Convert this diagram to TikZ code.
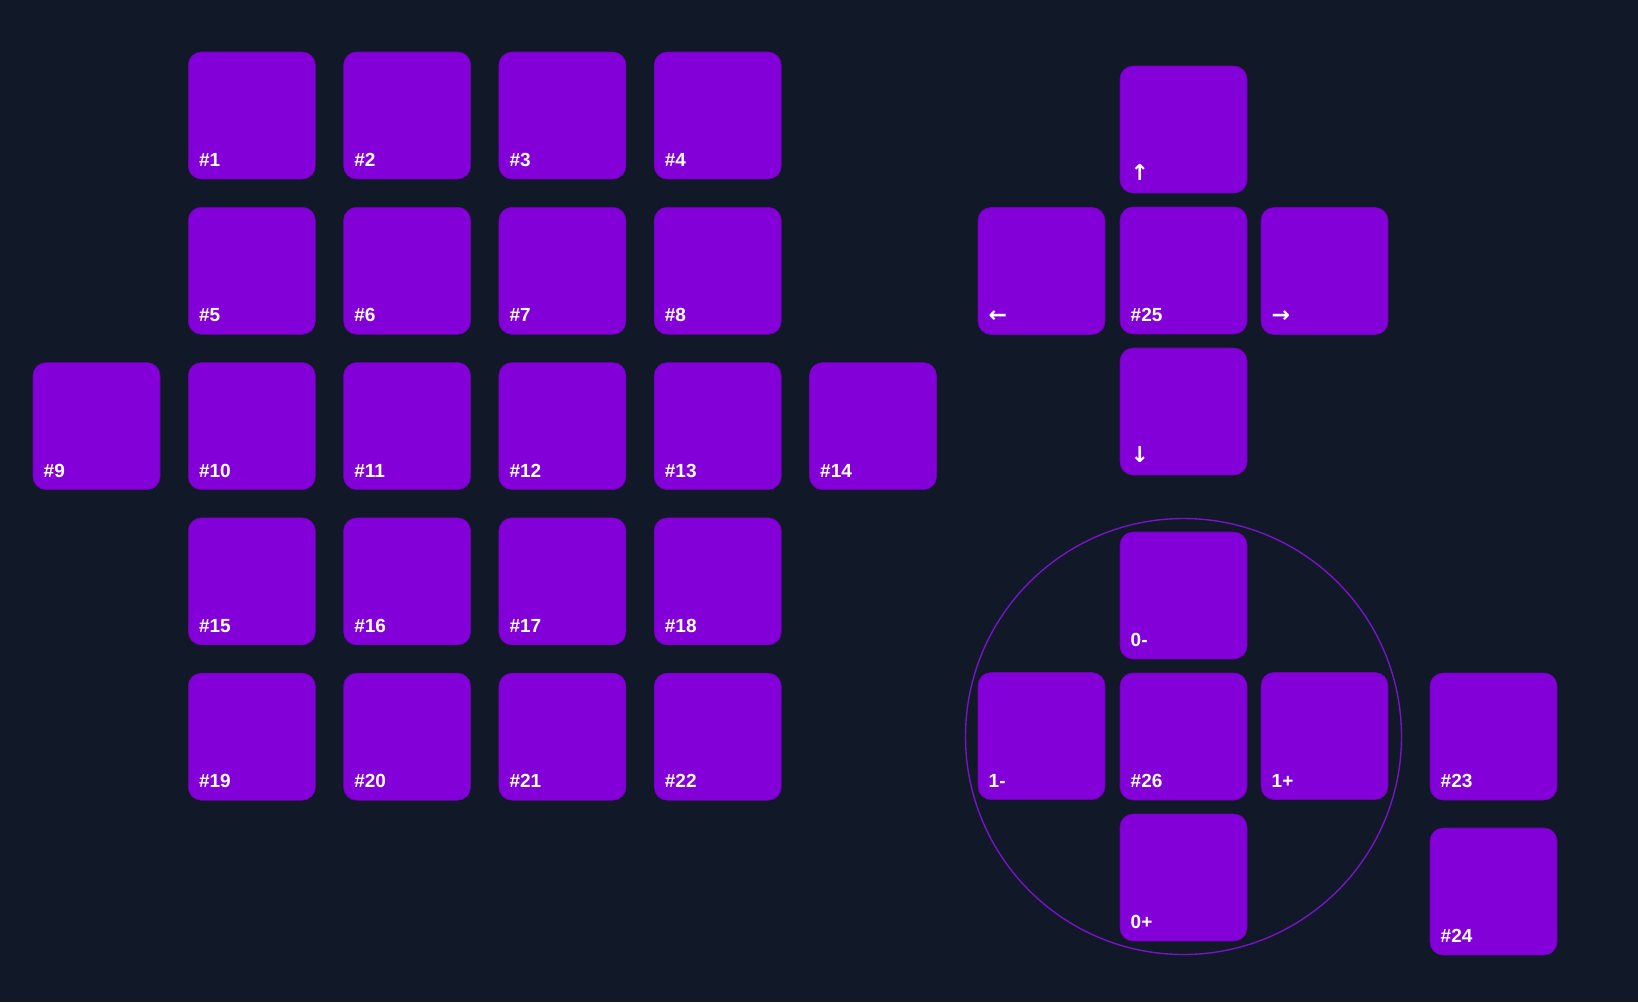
\documentclass[tikz,border=0pt]{standalone}
\usepackage{fontspec}
\setmainfont{Liberation Sans}
\newfontfamily\arrowfont{DejaVu Sans}
\usetikzlibrary{calc}
\definecolor{bgc}{HTML}{111827}
\definecolor{keyc}{RGB}{132,0,217}
\definecolor{ringc}{RGB}{118,20,200}
\tikzset{
  keybox/.style={fill=keyc, draw=keyc!85!black, line width=0.6pt, rounded corners=13pt,
    minimum width=127pt, minimum height=127pt, inner sep=0pt, outer sep=0pt},
  keylabel/.style={text=white, font=\bfseries\fontsize{19}{19}\selectfont, anchor=base west, inner sep=0pt},
  arrowlabel/.style={text=white, font=\arrowfont\bfseries\fontsize{22}{22}\selectfont, anchor=base west, inner sep=0pt},
}
\newcommand{\kbox}[5]{%
  \node[keybox] (#1) at (#2,#3) {};
  \node[#5] (#1l) at ($(#1.south west)+(10.5,-12.5)$) {#4};
}
\begin{document}
\begin{tikzpicture}[x=1pt,y=-1pt]
\fill[bgc] (0,0) rectangle (1638,1002);
\useasboundingbox (0,0) rectangle (1638,1002);
% ring
\node[circle, draw=ringc, line width=1.4pt, minimum size=436pt, inner sep=0pt] (ring) at (1183.5,736.5) {};
% main grid
\kbox{k1}{251.8}{115.5}{\#1}{keylabel}
\kbox{k2}{407.1}{115.5}{\#2}{keylabel}
\kbox{k3}{562.4}{115.5}{\#3}{keylabel}
\kbox{k4}{717.7}{115.5}{\#4}{keylabel}
\kbox{k5}{251.8}{270.8}{\#5}{keylabel}
\kbox{k6}{407.1}{270.8}{\#6}{keylabel}
\kbox{k7}{562.4}{270.8}{\#7}{keylabel}
\kbox{k8}{717.7}{270.8}{\#8}{keylabel}
\kbox{k9}{96.5}{426.1}{\#9}{keylabel}
\kbox{k10}{251.8}{426.1}{\#10}{keylabel}
\kbox{k11}{407.1}{426.1}{\#11}{keylabel}
\kbox{k12}{562.4}{426.1}{\#12}{keylabel}
\kbox{k13}{717.7}{426.1}{\#13}{keylabel}
\kbox{k14}{873.0}{426.1}{\#14}{keylabel}
\kbox{k15}{251.8}{581.4}{\#15}{keylabel}
\kbox{k16}{407.1}{581.4}{\#16}{keylabel}
\kbox{k17}{562.4}{581.4}{\#17}{keylabel}
\kbox{k18}{717.7}{581.4}{\#18}{keylabel}
\kbox{k19}{251.8}{736.7}{\#19}{keylabel}
\kbox{k20}{407.1}{736.7}{\#20}{keylabel}
\kbox{k21}{562.4}{736.7}{\#21}{keylabel}
\kbox{k22}{717.7}{736.7}{\#22}{keylabel}
% d-pad
\kbox{kup}{1183.5}{129.5}{↑}{arrowlabel}
\kbox{kleft}{1041.5}{271}{←}{arrowlabel}
\kbox{k25}{1183.5}{270.5}{\#25}{keylabel}
\kbox{kright}{1324.5}{271}{→}{arrowlabel}
\kbox{kdown}{1183.5}{411.5}{↓}{arrowlabel}
% ring group
\kbox{kzm}{1183.5}{595.5}{0-}{keylabel}
\kbox{kom}{1041.5}{736}{1-}{keylabel}
\kbox{k26}{1183.5}{736.5}{\#26}{keylabel}
\kbox{kop}{1324.5}{736}{1+}{keylabel}
\kbox{kzp}{1183.5}{877.5}{0+}{keylabel}
% extra
\kbox{k23}{1493.5}{736.5}{\#23}{keylabel}
\kbox{k24}{1493.5}{891.5}{\#24}{keylabel}
\end{tikzpicture}
\end{document}
